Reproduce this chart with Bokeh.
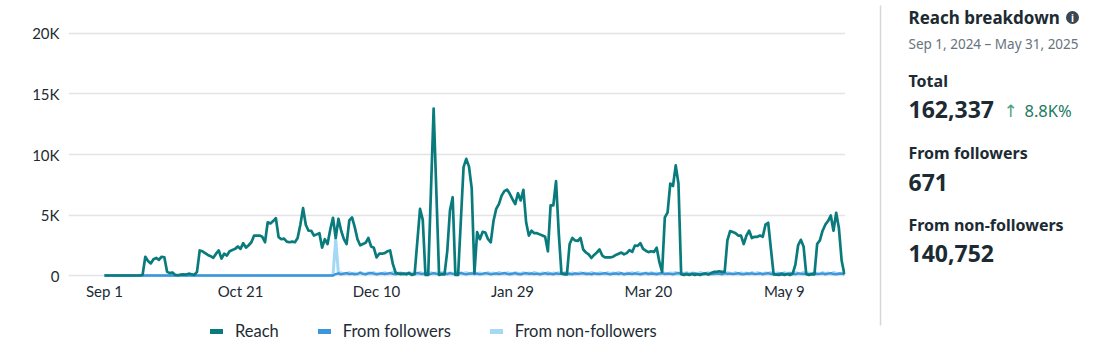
import numpy as np
import pandas as pd
from bokeh.plotting import figure
from bokeh.layouts import row, column
from bokeh.models import Range1d, FixedTicker, Legend, LegendItem
from bokeh.core.properties import value
from bokeh.embed import file_html
from bokeh.resources import INLINE

# ---------------- data (daily, Sep 1 2024 - May 31 2025) ----------------
start_date = "2024-09-01"

reach_sep = [0, 0, 0, 0, 0, 0, 0, 0, 0, 0, 0, 0, 0, 0,
             50, 1550, 1200, 1000, 1350, 1450, 1300, 1550, 1500, 300, 200, 250, 50, 20, 80, 100]
reach_oct = [80, 150, 100, 50, 300, 2070, 2000, 1850, 1700, 1600, 1460, 1800, 2070, 1400, 1800,
             1650, 2000, 2100, 2200, 2400, 2200, 2670, 2300, 2500, 2750, 3300, 3300, 3300, 3200, 2750, 4400]
reach_nov = [4300, 4500, 4740, 3170, 3000, 3050, 2800, 2750, 2800, 2750, 3100, 4200, 5570, 4200, 3700,
             3700, 3300, 3400, 3500, 2300, 3000, 2600, 3800, 4770, 3100, 4680, 3700, 3000, 2600, 4550]
reach_dec = [4800, 4000, 3000, 2500, 2600, 2700, 3100, 2400, 2300, 1500, 1800, 1800, 1850, 2000, 2070,
             960, 250, 150, 120, 150, 100, 200, 50, 100, 2800, 5500, 4600, 50, 50, 6900, 13800]
reach_jan = [6900, 50, 100, 100, 2000, 5370, 6470, 50, 50, 4500, 8950, 9640, 9000, 7200, 200,
             3580, 3000, 3600, 3550, 3000, 2750, 4500, 5500, 5900, 6600, 6970, 7100, 6750, 6300, 5900, 6800]
reach_feb = [6200, 7080, 4400, 3300, 3700, 3500, 3500, 3400, 3300, 3200, 2000, 5800, 5800, 7800,
             3500, 150, 100, 100, 2600, 3100, 2900, 2850, 3100, 2150, 1900, 1740, 1450, 1700]
reach_mar = [1900, 2150, 1650, 1500, 1500, 1500, 1550, 1700, 1800, 1900, 1750, 1850, 2100, 1950, 2480,
             2450, 2670, 2200, 2050, 1930, 2000, 1950, 2300, 1100, 300, 4800, 5200, 7600, 7400, 9100, 7600]
reach_apr = [100, 50, 100, 50, 120, 50, 100, 50, 120, 150, 80, 200, 300, 300, 350,
             300, 300, 2900, 3670, 3600, 3500, 3300, 3300, 2600, 3300, 3700, 3100, 3200, 3200, 3300]
reach_may = [3200, 4200, 4360, 2200, 100, 80, 50, 100, 50, 120, 50, 150, 900, 2500, 2950,
             2400, 100, 50, 100, 100, 2600, 2900, 3700, 4200, 4500, 4960, 3700, 5180, 3900, 1240, 100]

fol_sep = [0] * 30
fol_oct = [0] * 31
fol_nov = [0] * 24 + [120, 180, 90, 150, 200, 110]
fol_dec = [160, 90, 140, 210, 130, 100, 170, 220, 150, 90, 130, 180, 120, 160, 200, 140,
           90, 150, 190, 110, 170, 130, 90, 160, 210, 150, 120, 180, 100, 140, 200]
fol_jan = [130, 90, 170, 150, 110, 190, 140, 100, 160, 220, 130, 90, 150, 180, 120, 160,
           100, 140, 200, 150, 90, 130, 170, 110, 160, 210, 140, 100, 150, 190, 120]
fol_feb = [90, 160, 200, 130, 170, 110, 150, 90, 140, 190, 120, 160, 100, 180, 130, 150,
           210, 110, 140, 90, 170, 130, 160, 200, 120, 150, 90, 180]
fol_mar = [140, 110, 160, 200, 130, 90, 150, 170, 120, 190, 100, 140, 160, 110, 180, 130,
           90, 150, 200, 120, 160, 140, 100, 170, 190, 110, 150, 130, 90, 160, 210]
fol_apr = [140, 120, 170, 100, 150, 180, 130, 90, 160, 200, 120, 140, 110, 170, 150, 90,
           190, 130, 160, 110, 140, 200, 120, 90, 160, 150, 180, 110, 130, 170]
fol_may = [100, 150, 190, 120, 140, 90, 160, 200, 130, 110, 170, 150, 100, 180, 140, 120,
           160, 90, 150, 190, 110, 130, 170, 100, 150, 200, 120, 90, 160, 140, 110]

non_sep = [0] * 30
non_oct = [0] * 31
non_nov = [0] * 24 + [3000, 150, 220, 130, 180, 240]
non_dec = [140, 200, 120, 250, 170, 130, 210, 160, 240, 120, 190, 150, 230, 140, 200, 260,
           130, 180, 220, 150, 120, 240, 170, 200, 130, 250, 160, 190, 140, 230, 170]
non_jan = [210, 130, 250, 180, 140, 220, 160, 240, 120, 200, 170, 230, 150, 190, 260, 140,
           210, 130, 180, 240, 160, 200, 120, 250, 170, 140, 220, 190, 130, 240, 180]
non_feb = [150, 230, 170, 210, 130, 260, 180, 140, 220, 160, 240, 120, 200, 170, 230, 150,
           190, 250, 140, 210, 130, 180, 240, 160, 200, 120, 250, 170]
non_mar = [140, 220, 190, 130, 240, 160, 210, 150, 250, 180, 120, 200, 170, 230, 140, 260,
           190, 130, 210, 160, 240, 150, 200, 120, 230, 180, 140, 220, 170, 250, 130]
non_apr = [200, 160, 240, 140, 210, 180, 120, 250, 170, 190, 230, 150, 200, 130, 260, 170,
           140, 220, 190, 150, 240, 130, 210, 170, 200, 120, 250, 160, 230, 180]
non_may = [140, 220, 170, 250, 130, 200, 190, 150, 240, 160, 210, 120, 230, 180, 140, 260,
           170, 200, 130, 220, 190, 150, 240, 160, 210, 130, 250, 180, 140, 200, 120]

y_ticks = [0, 5000, 10000, 15000, 20000]
y_tick_labels = ["0", "5K", "10K", "15K", "20K"]
x_tick_dates = ["2024-09-01", "2024-10-21", "2024-12-10", "2025-01-29", "2025-03-20", "2025-05-09"]
x_tick_labels = ["Sep 1", "Oct 21", "Dec 10", "Jan 29", "Mar 20", "May 9"]

series_names = ["Reach", "From followers", "From non-followers"]

# panel texts
panel_title = "Reach breakdown"
panel_period = "Sep 1, 2024 \u2013 May 31, 2025"
total_label, total_value, total_change = "Total", "162,337", "8.8K%"
fol_label, fol_value = "From followers", "671"
non_label, non_value = "From non-followers", "140,752"

# ---------------- assemble ----------------
reach = reach_sep + reach_oct + reach_nov + reach_dec + reach_jan + reach_feb + reach_mar + reach_apr + reach_may
followers = fol_sep + fol_oct + fol_nov + fol_dec + fol_jan + fol_feb + fol_mar + fol_apr + fol_may
nonfollowers = non_sep + non_oct + non_nov + non_dec + non_jan + non_feb + non_mar + non_apr + non_may

t0 = pd.Timestamp(start_date)


def dates_for(vals):
    return list(pd.date_range(t0, periods=len(vals), freq="D"))


TEAL = "#0a7b7d"
BLUE = "#3d95da"
LIGHT = "#a3d8f6"
INK = "#1c2b33"
FONT = "Lato"
PFONT = "Noto Sans"

# ---------------- chart ----------------
p = figure(width=875, height=310, x_axis_type="datetime",
           x_range=Range1d(t0 - pd.Timedelta(days=13.24), t0 + pd.Timedelta(days=272.42)),
           y_range=Range1d(-413, 22727),
           output_backend="svg", toolbar_location=None,
           min_border_left=68, min_border_right=30, min_border_top=0, min_border_bottom=30)
p.outline_line_color = None
p.xgrid.visible = False
p.ygrid.grid_line_color = "#e2e4e7"
p.ygrid.grid_line_width = 1.5
p.ygrid.ticker = FixedTicker(ticks=y_ticks)

p.yaxis.ticker = FixedTicker(ticks=y_ticks)
p.yaxis.major_label_overrides = {t: l for t, l in zip(y_ticks, y_tick_labels)}
epoch = pd.Timestamp("1970-01-01")
x_tick_ms = [int((pd.Timestamp(d) - epoch) // pd.Timedelta(milliseconds=1)) for d in x_tick_dates]
p.xaxis.ticker = FixedTicker(ticks=x_tick_ms)
p.xaxis.major_label_overrides = {t: l for t, l in zip(x_tick_ms, x_tick_labels)}
for ax in (p.xaxis, p.yaxis):
    ax.axis_line_color = None
    ax.major_tick_line_color = None
    ax.minor_tick_line_color = None
    ax.major_tick_out = 0
    ax.major_tick_in = 0
    ax.minor_tick_out = 0
    ax.minor_tick_in = 0
    ax.major_label_text_font = FONT
    ax.major_label_text_font_size = "15px"
    ax.major_label_text_color = INK
p.yaxis.major_label_standoff = 9
p.xaxis.major_label_standoff = 1

p.line(dates_for(nonfollowers), nonfollowers, line_color=LIGHT, line_width=3, line_join="round")
p.line(dates_for(followers), followers, line_color=BLUE, line_width=2.4, line_join="round")
p.line(dates_for(reach), reach, line_color=TEAL, line_width=2.7, line_join="round")

# ---------------- legend strip under the chart ----------------
leg = figure(width=875, height=45, x_range=Range1d(0, 1), y_range=Range1d(0, 1),
             output_backend="svg", toolbar_location=None,
             min_border_left=68, min_border_right=30, min_border_top=0, min_border_bottom=0,
             x_axis_location=None, y_axis_location=None)
leg.outline_line_color = None
leg.grid.visible = False
lg = []
for name, col in zip(series_names, [TEAL, BLUE, LIGHT]):
    # swatch-only renderers (no visible points) so the legend can draw thick rounded bars
    rr = leg.line(x=np.array([np.nan, np.nan]), y=np.array([np.nan, np.nan]),
                  line_color=col, line_width=5, line_cap="round")
    lg.append(LegendItem(label=name, renderers=[rr]))
legend = Legend(items=lg, orientation="horizontal", location=(142, 14),
                border_line_color=None, background_fill_alpha=0,
                padding=4, margin=0, spacing=39, label_standoff=12,
                glyph_width=13, glyph_height=16, label_height=16,
                label_text_font=FONT, label_text_font_size="16.5px", label_text_color=INK)
leg.add_layout(legend)

# ---------------- right panel ----------------
q = figure(width=235, height=355, x_range=Range1d(0, 235), y_range=Range1d(325, 0),
           output_backend="svg", toolbar_location=None,
           min_border_left=0, min_border_right=0, min_border_top=0, min_border_bottom=30,
           x_axis_location=None, y_axis_location=None)
q.outline_line_color = None
q.grid.visible = False
q.segment(x0=[5], y0=[5], x1=[5], y1=[345], line_color="#d3d7db", line_width=1.5)


def txt(x, y, s, size, bold=True, color=INK, font=PFONT):
    q.text(x=[x], y=[y], text=[s], text_font=value(font), text_font_size=size,
           text_font_style="bold" if bold else "normal", text_color=color,
           text_baseline="middle", text_align="left")


txt(33, 17, panel_title, "17px")
q.scatter(x=[197], y=[17], size=13, fill_color="#3a4650", line_color=None)
q.text(x=[197], y=[17.5], text=["i"], text_font=value(PFONT), text_font_size="10px",
       text_font_style="bold", text_color="white", text_align="center", text_baseline="middle")
txt(33, 43, panel_period, "13.5px", bold=False, color="#67737d")
txt(33, 80, total_label, "16px")
txt(33, 109, total_value, "23px")
txt(128, 110, "\u2191", "17px", bold=False, color="#4f9f86", font="DejaVu Sans")
txt(149, 110, total_change, "16.5px", bold=False, color="#1e7a62")
txt(33, 152, fol_label, "16px")
txt(33, 182, fol_value, "23px")
txt(33, 224, non_label, "16px")
txt(33, 253, non_value, "23px")

layout = row(column(p, leg), q)
open("out.html", "w").write(file_html(layout, INLINE))
